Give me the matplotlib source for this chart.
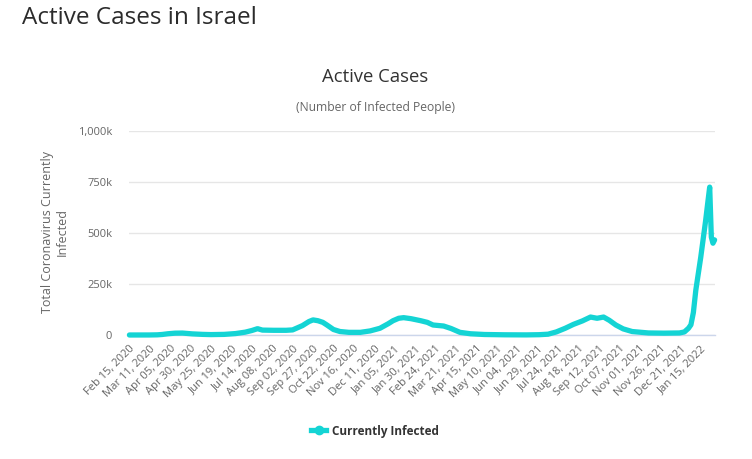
import matplotlib
matplotlib.use("Agg")
import matplotlib.pyplot as plt
import pandas as pd

# ---- data ----
dates = [
    "2020-02-15", "2020-03-10", "2020-03-20", "2020-03-26", "2020-04-02", "2020-04-11",
    "2020-04-20", "2020-05-02", "2020-05-15", "2020-05-25", "2020-06-10", "2020-06-24",
    "2020-07-06", "2020-07-14", "2020-07-21", "2020-07-27", "2020-08-10", "2020-08-25",
    "2020-09-02", "2020-09-14", "2020-09-22", "2020-09-27", "2020-10-03", "2020-10-09",
    "2020-10-14", "2020-10-22", "2020-10-30", "2020-11-10", "2020-11-24", "2020-12-06",
    "2020-12-18", "2020-12-28", "2021-01-03", "2021-01-10", "2021-01-16", "2021-01-25",
    "2021-02-06", "2021-02-14", "2021-02-21", "2021-03-06", "2021-03-15", "2021-03-26",
    "2021-04-08", "2021-04-25", "2021-05-20", "2021-06-15", "2021-07-01", "2021-07-12",
    "2021-07-22", "2021-08-02", "2021-08-12", "2021-08-23", "2021-09-02", "2021-09-10",
    "2021-09-18", "2021-09-25", "2021-10-03", "2021-10-12", "2021-10-23", "2021-11-12",
    "2021-12-01", "2021-12-20", "2021-12-26", "2021-12-31", "2022-01-03", "2022-01-06",
    "2022-01-09", "2022-01-12", "2022-01-15", "2022-01-18", "2022-01-21", "2022-01-24",
    "2022-01-26", "2022-01-28", "2022-01-30", "2022-02-01",
]
active = [
    0, 100, 800, 2500, 6000, 9000,
    9500, 5500, 3000, 2000, 3000, 7000,
    14000, 22000, 31000, 24000, 23000, 23000,
    25000, 46000, 66000, 74000, 70000, 62000,
    49000, 27000, 17000, 13000, 13000, 20000,
    33000, 55000, 70000, 82000, 85000, 80000,
    70000, 62000, 49000, 44000, 32000, 13000,
    6000, 2500, 1000, 500, 1500, 4000,
    15000, 33000, 52000, 69000, 88000, 82000,
    88000, 72000, 49000, 30000, 17000, 10000,
    9000, 10000, 15000, 33000, 50000, 110000,
    220000, 300000, 380000, 470000, 560000, 660000,
    725000, 480000, 450000, 466000,
]
y_ticks = [0, 250000, 500000, 750000, 1000000]
y_tick_labels = ["0", "250k", "500k", "750k", "1,000k"]
series_name = "Currently Infected"

# ---- figure ----
W, H = 752, 459
fig = plt.figure(figsize=(W / 100, H / 100), dpi=100)
plt.rcParams['font.family'] = ['Open Sans', 'DejaVu Sans']

left, right, top, bottom = 129, 715, 131, 335
ax = fig.add_axes([left / W, 1 - bottom / H, (right - left) / W, (bottom - top) / H])

x = pd.to_datetime(dates)
color = "#14d4d4"
ax.plot(x, active, color=color, lw=3.8, solid_capstyle="round",
        solid_joinstyle="round", clip_on=False, zorder=3)

start = pd.Timestamp("2020-02-15")
end = pd.Timestamp("2022-02-01")
ax.set_xlim(start - pd.Timedelta(hours=12), end + pd.Timedelta(hours=12))
ax.set_ylim(0, 1000000)

# x ticks every 25 days
tick_dates = pd.date_range(start, pd.Timestamp("2022-01-20"), freq="25D")
ax.set_xticks(tick_dates)
ax.set_xticklabels([d.strftime("%b %d, %Y") for d in tick_dates], rotation=45,
                   ha="right", va="top", rotation_mode="anchor",
                   fontsize=8, color="#666666")
ax.tick_params(axis="x", length=0, pad=6)

ax.set_yticks(y_ticks)
ax.set_yticklabels(y_tick_labels, fontsize=8, color="#666666")
ax.tick_params(axis="y", length=0, pad=12)

ax.grid(axis="y", color="#e6e6e6", lw=1)
ax.set_axisbelow(True)
for s in ["top", "right", "left"]:
    ax.spines[s].set_visible(False)
ax.spines["bottom"].set_color("#ccd6eb")
ax.spines["bottom"].set_linewidth(1)

ax.set_ylabel("Total Coronavirus Currently\nInfected", fontsize=9, color="#666666",
              linespacing=1.2)
ax.yaxis.set_label_coords((69 - left) / (right - left), 0.505)

# titles
fig.text(22 / W, 1 - 18 / H, "Active Cases in Israel", fontsize=17.5, color="#2b2b2b",
         ha="left", va="center")
fig.text(375 / W, 1 - 77 / H, "Active Cases", fontsize=13.3, color="#333333",
         ha="center", va="center")
fig.text(376 / W, 1 - 108 / H, "(Number of Infected People)", fontsize=8.7,
         color="#666666", ha="center", va="center")

# legend
handle = plt.Line2D([], [], color=color, lw=3.8, marker="o", markersize=6,
                    markerfacecolor=color, markeredgecolor=color)
leg = fig.legend([handle], [series_name], loc="center",
                 bbox_to_anchor=(375 / W, 1 - 431 / H), frameon=False,
                 handlelength=1.3, handletextpad=0.5,
                 prop={"size": 8.5, "weight": "bold"})
for t in leg.get_texts():
    t.set_color("#333333")

fig.savefig("out.png", dpi=100)
